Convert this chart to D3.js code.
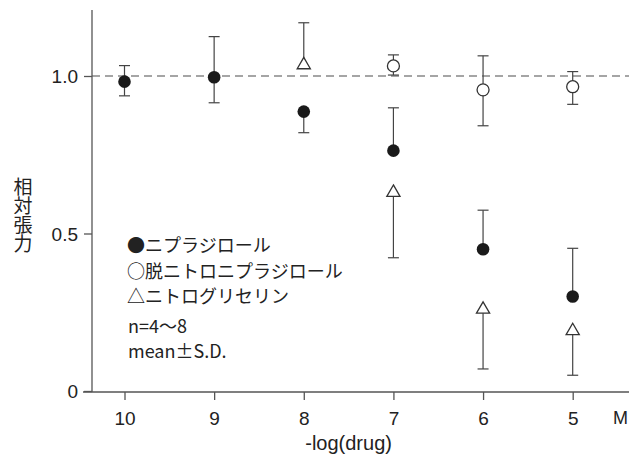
<!DOCTYPE html>
<html><head><meta charset="utf-8">
<script src="https://cdn.jsdelivr.net/npm/d3@7"></script>
<style>
body{margin:0;background:#fff;}
svg{display:block;}
text{font-family:"Liberation Sans",Arial,sans-serif;fill:#222;}
.jp{font-family:"Noto Sans CJK JP",sans-serif;}
</style></head>
<body>
<svg id="c" width="629" height="457"></svg>
<script>
// ---- data ----
const xTicks = [10, 9, 8, 7, 6, 5];
const yTicks = [0, 0.5, 1.0];
const yTickLabels = ["0", "0.5", "1.0"];

const nipX = [10, 9, 8, 7, 6, 5];
const nipMean = [0.982, 0.996, 0.887, 0.763, 0.450, 0.300];
const nipUp   = [0.051, 0.129, null, 0.136, 0.124, 0.153];
const nipDown = [0.045, 0.081, 0.067, null, null, null];

const denX = [7, 6, 5];
const denMean = [1.032, 0.956, 0.966];
const denUp   = [0.035, 0.108, 0.048];
const denDown = [0.029, 0.114, 0.056];

const ntgX = [8, 7, 6, 5];
const ntgMean = [1.035, 0.630, 0.259, 0.191];
const ntgUp   = [0.134, null, null, null];
const ntgDown = [null, 0.207, 0.189, 0.141];

const legendLabels = ["●ニプラジロール", "○脱ニトロニプラジロール", "△ニトログリセリン"];
const noteLabels = ["n=4〜8", "mean±S.D."];
const yTitle = "相対張力";
const xTitle = "-log(drug)";
const xUnit = "M";

// ---- chart ----
const svg = d3.select("#c");
const x = d3.scaleLinear().domain([10, 5]).range([124.5, 572.7]);
const y = d3.scaleLinear().domain([0, 1.2095]).range([391, 10]);
const axisColor = "#555";

// reference dashed line at 1.0
svg.append("line").attr("x1", 92).attr("x2", 629)
  .attr("y1", y(1)).attr("y2", y(1))
  .attr("stroke", "#888").attr("stroke-width", 1.3).attr("stroke-dasharray", "8,5");

// axes lines
svg.append("line").attr("x1", 92).attr("x2", 92).attr("y1", y.range()[1]).attr("y2", 392)
  .attr("stroke", axisColor).attr("stroke-width", 1.3);
svg.append("line").attr("x1", 83).attr("x2", 629).attr("y1", 392).attr("y2", 392)
  .attr("stroke", axisColor).attr("stroke-width", 1.3);

// x axis
const gx = svg.append("g").attr("transform", "translate(0,392)")
  .call(d3.axisBottom(x).tickValues(xTicks).tickSize(8).tickSizeOuter(0).tickFormat(d3.format("d")));
gx.select(".domain").remove();
gx.selectAll(".tick line").attr("stroke", axisColor).attr("stroke-width", 1.3);
gx.selectAll(".tick text").attr("y", 33).attr("dy", 0).attr("font-size", 19)
  .attr("font-family", "Liberation Sans, Arial, sans-serif").attr("fill", "#222");

// y axis
const gy = svg.append("g").attr("transform", "translate(92,0)")
  .call(d3.axisLeft(y).tickValues(yTicks).tickSize(8).tickSizeOuter(0)
    .tickFormat((d, i) => yTickLabels[i]));
gy.select(".domain").remove();
gy.selectAll(".tick line").attr("stroke", axisColor).attr("stroke-width", 1.3);
gy.selectAll(".tick text").attr("x", -14).attr("dy", "0.35em").attr("font-size", 19)
  .attr("font-family", "Liberation Sans, Arial, sans-serif").attr("fill", "#222");

// titles
svg.append("text").attr("x", x(7.5)).attr("y", 450).attr("text-anchor", "middle")
  .attr("font-size", 20).text(xTitle);
svg.append("text").attr("x", 613).attr("y", 424).attr("font-size", 18).text(xUnit);
svg.append("text").attr("class", "jp")
  .attr("x", 23).attr("y", 215)
  .attr("text-anchor", "middle")
  .style("writing-mode", "vertical-rl")
  .attr("font-size", 19).text(yTitle);

// error bars
function errBars(xs, means, ups, downs) {
  const g = svg.append("g").attr("stroke", "#444").attr("stroke-width", 1.2);
  xs.forEach((xv, i) => {
    const cx = x(xv);
    [[ups[i], 1], [downs[i], -1]].forEach(([e, s]) => {
      if (e == null) return;
      const yEnd = y(means[i] + s * e);
      g.append("line").attr("x1", cx).attr("x2", cx).attr("y1", y(means[i])).attr("y2", yEnd);
      g.append("line").attr("x1", cx - 5.5).attr("x2", cx + 5.5).attr("y1", yEnd).attr("y2", yEnd);
    });
  });
}
errBars(nipX, nipMean, nipUp, nipDown);
errBars(denX, denMean, denUp, denDown);
errBars(ntgX, ntgMean, ntgUp, ntgDown);

// markers
svg.append("g").selectAll("circle").data(nipX).enter().append("circle")
  .attr("cx", d => x(d)).attr("cy", (d, i) => y(nipMean[i])).attr("r", 6.3)
  .attr("fill", "#1a1a1a");
svg.append("g").selectAll("circle").data(denX).enter().append("circle")
  .attr("cx", d => x(d)).attr("cy", (d, i) => y(denMean[i])).attr("r", 6)
  .attr("fill", "#fff").attr("stroke", "#333").attr("stroke-width", 1.3);
const tri = d3.symbol().type(d3.symbolTriangle).size(75);
svg.append("g").selectAll("path").data(ntgX).enter().append("path")
  .attr("transform", (d, i) => `translate(${x(d)},${y(ntgMean[i])})`)
  .attr("d", tri).attr("fill", "#fff").attr("stroke", "#333").attr("stroke-width", 1.3);

// legend
svg.selectAll("text.lg").data(legendLabels).enter().append("text")
  .attr("class", "lg jp").attr("x", 127).attr("y", (d, i) => 252 + i * 25.5)
  .attr("font-size", 18).text(d => d);
svg.selectAll("text.nt").data(noteLabels).enter().append("text")
  .attr("class", "nt jp").attr("x", 128).attr("y", (d, i) => 333 + i * 25)
  .attr("font-size", 18).text(d => d);
</script>
</body></html>
